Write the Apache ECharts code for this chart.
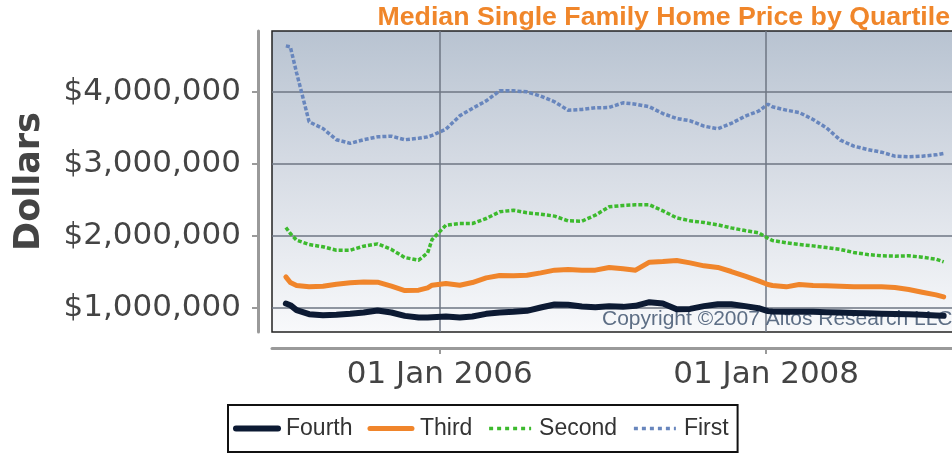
<!DOCTYPE html>
<html>
<head>
<meta charset="utf-8">
<script src="https://cdn.jsdelivr.net/npm/echarts@6/dist/echarts.min.js"></script>
<style>
  html, body { margin: 0; padding: 0; background: #fff; }
  #chart { width: 952px; height: 455px; }
</style>
</head>
<body>
<div id="chart"></div>
<script>
var dates = [
  '2005-01-22', '2005-02-01', '2005-02-15', '2005-03-15', '2005-04-15', '2005-05-15', '2005-06-15',
  '2005-07-15', '2005-08-15', '2005-09-15', '2005-10-15', '2005-11-15', '2005-12-05', '2005-12-15',
  '2006-01-15', '2006-02-15', '2006-03-15', '2006-04-15', '2006-05-15', '2006-06-15',
  '2006-07-15', '2006-08-15', '2006-09-15', '2006-10-15', '2006-11-15', '2006-12-15',
  '2007-01-15', '2007-02-15', '2007-03-15', '2007-04-15', '2007-05-15', '2007-06-15',
  '2007-07-15', '2007-08-15', '2007-09-15', '2007-10-15', '2007-11-15', '2007-12-15',
  '2008-01-05', '2008-01-15', '2008-02-15', '2008-03-15', '2008-04-15', '2008-05-15', '2008-06-15',
  '2008-07-15', '2008-08-15', '2008-09-15', '2008-10-15', '2008-11-15', '2008-12-15',
  '2009-01-15', '2009-02-01'
];

var fourth = [
  1056000, 1032000, 963000, 907000, 894000, 898000, 912000, 931000, 958000, 931000, 884000, 861000, 861000, 866000,
  875000, 861000, 875000, 912000, 931000, 940000, 954000, 1000000, 1042000, 1037000, 1014000, 1005000,
  1019000, 1009000, 1023000, 1074000, 1056000, 977000, 981000, 1019000, 1046000, 1046000, 1019000, 991000,
  950000, 944000, 940000, 940000, 940000, 935000, 930000, 925000, 920000, 915000, 910000, 905000, 900000,
  890000, 885000
];

var third = [
  1426000, 1347000, 1306000, 1287000, 1296000, 1324000, 1343000, 1356000, 1352000, 1296000, 1236000, 1241000, 1273000, 1310000,
  1333000, 1310000, 1347000, 1412000, 1444000, 1440000, 1449000, 1481000, 1519000, 1528000, 1519000, 1519000,
  1556000, 1537000, 1519000, 1630000, 1639000, 1653000, 1620000, 1579000, 1556000, 1500000, 1435000, 1370000,
  1319000, 1306000, 1287000, 1319000, 1306000, 1301000, 1296000, 1287000, 1287000, 1287000, 1278000, 1250000, 1213000,
  1176000, 1148000
];

var second = [
  2111000, 2028000, 1935000, 1875000, 1843000, 1796000, 1796000, 1852000, 1884000, 1806000, 1694000, 1657000, 1759000, 1944000,
  2144000, 2167000, 2167000, 2236000, 2329000, 2352000, 2315000, 2296000, 2269000, 2204000, 2199000, 2282000,
  2398000, 2417000, 2426000, 2426000, 2343000, 2245000, 2204000, 2181000, 2148000, 2106000, 2069000, 2037000,
  1963000, 1931000, 1898000, 1875000, 1856000, 1833000, 1806000, 1764000, 1736000, 1718000, 1713000, 1718000, 1699000,
  1671000, 1634000
];

var first = [
  4634000, 4620000, 4259000, 3579000, 3486000, 3330000, 3280000, 3330000, 3370000, 3380000, 3330000, 3350000, 3370000, 3390000,
  3477000, 3662000, 3764000, 3870000, 4009000, 4009000, 3995000, 3935000, 3856000, 3741000, 3750000, 3773000,
  3778000, 3843000, 3824000, 3787000, 3694000, 3625000, 3593000, 3519000, 3481000, 3556000, 3657000, 3727000,
  3824000, 3787000, 3741000, 3708000, 3611000, 3495000, 3324000, 3241000, 3194000, 3157000, 3102000, 3093000, 3102000,
  3120000, 3139000
];

var yTicks = [1000000, 2000000, 3000000, 4000000];
var xTicks = ['2006-01-01', '2008-01-01'];

function ts(s) {
  return echarts.number.parseDate(s).getTime();
}

function pairs(values) {
  return dates.map(function (d, i) { return [ts(d), values[i]]; });
}

var chart = echarts.init(document.getElementById('chart'));

var gridLine = { color: '#6e7683', width: 1.5 };
var axisGray = '#9a9a9a';
var labelFont = '"DejaVu Sans", sans-serif';

var option = {
  animation: false,
  title: {
    text: 'Median Single Family Home Price by Quartile',
    right: 2,
    top: 4,
    padding: 0,
    textStyle: {
      color: '#f0862a',
      fontSize: 26.7,
      fontWeight: 'bold',
      fontFamily: '"Liberation Sans", Arial, sans-serif'
    }
  },
  legend: {
    left: 228,
    top: 405,
    orient: 'horizontal',
    backgroundColor: '#fff',
    borderColor: '#111',
    borderWidth: 2,
    padding: [12, 9, 12, 5],
    itemWidth: 42,
    itemHeight: 14,
    itemGap: 15,
    itemStyle: { opacity: 0 },
    lineStyle: { width: 'inherit' },
    textStyle: {
      fontSize: 23,
      color: '#333',
      fontFamily: '"Liberation Sans", Arial, sans-serif',
      padding: [0, 0, 0, 3]
    },
    data: [
      { name: 'Fourth' },
      { name: 'Third' },
      { name: 'Second', lineStyle: { type: [4, 4] } },
      { name: 'First', lineStyle: { type: [4, 4] } }
    ]
  },
  grid: {
    left: 272,
    top: 31,
    width: 690,
    bottom: 123,
    outerBoundsMode: 'none',
    show: true,
    borderColor: '#222',
    borderWidth: 1.5,
    backgroundColor: new echarts.graphic.LinearGradient(0, 0, 0, 1, [
      { offset: 0, color: '#b8c3d1' },
      { offset: 0.5, color: '#d9dee6' },
      { offset: 1, color: '#f8f9fb' }
    ])
  },
  xAxis: {
    type: 'value',
    min: ts('2004-12-22'),
    max: ts('2009-03-14'),
    offset: 16,
    axisLine: { show: true, lineStyle: { color: axisGray, width: 3 } },
    axisTick: {
      show: true,
      length: 6,
      customValues: xTicks.map(ts),
      lineStyle: { color: axisGray, width: 2 }
    },
    axisLabel: {
      customValues: xTicks.map(ts),
      formatter: function (v) {
        return echarts.time.format(v, '{dd} {MMM} {yyyy}', false);
      },
      fontSize: 31,
      margin: 11,
      color: '#444',
      fontFamily: labelFont
    },
    splitLine: { show: true, lineStyle: gridLine }
  },
  yAxis: {
    type: 'value',
    min: 660000,
    max: 4840000,
    offset: 14,
    name: 'Dollars',
    nameLocation: 'middle',
    nameGap: 211,
    nameTextStyle: {
      fontSize: 35,
      fontWeight: 'bold',
      color: '#444',
      fontFamily: labelFont
    },
    axisLine: { show: true, lineStyle: { color: axisGray, width: 3 } },
    axisTick: {
      show: true,
      length: 6,
      customValues: yTicks,
      lineStyle: { color: axisGray, width: 2 }
    },
    axisLabel: {
      customValues: yTicks,
      formatter: function (v) {
        return '$' + v.toLocaleString('en-US');
      },
      fontSize: 31,
      margin: 17,
      color: '#444',
      fontFamily: labelFont
    },
    splitLine: { show: true, lineStyle: gridLine }
  },
  graphic: [
    {
      // sits under the series lines, as in the original
      type: 'text',
      left: 602,
      top: 309,
      silent: true,
      z: 1,
      style: {
        text: 'Copyright \u00a92007 Altos Research LLC',
        fill: '#5d6e85',
        fontSize: 21,
        fontFamily: '"Liberation Sans", Arial, sans-serif'
      }
    }
  ],
  series: [
    {
      name: 'Fourth',
      type: 'line',
      symbol: 'none',
      data: pairs(fourth),
      lineStyle: { color: '#0c1a33', width: 6, cap: 'round', join: 'round' },
      itemStyle: { color: '#0c1a33' }
    },
    {
      name: 'Third',
      type: 'line',
      symbol: 'none',
      data: pairs(third),
      lineStyle: { color: '#f0852b', width: 5, cap: 'round', join: 'round' },
      itemStyle: { color: '#f0852b' }
    },
    {
      name: 'Second',
      type: 'line',
      symbol: 'none',
      data: pairs(second),
      lineStyle: { color: '#3dba2e', width: 3.5, type: [4, 2] },
      itemStyle: { color: '#3dba2e' }
    },
    {
      name: 'First',
      type: 'line',
      symbol: 'none',
      data: pairs(first),
      lineStyle: { color: '#6886bd', width: 3.5, type: [4, 2] },
      itemStyle: { color: '#6886bd' }
    }
  ]
};

chart.setOption(option);
</script>
</body>
</html>
